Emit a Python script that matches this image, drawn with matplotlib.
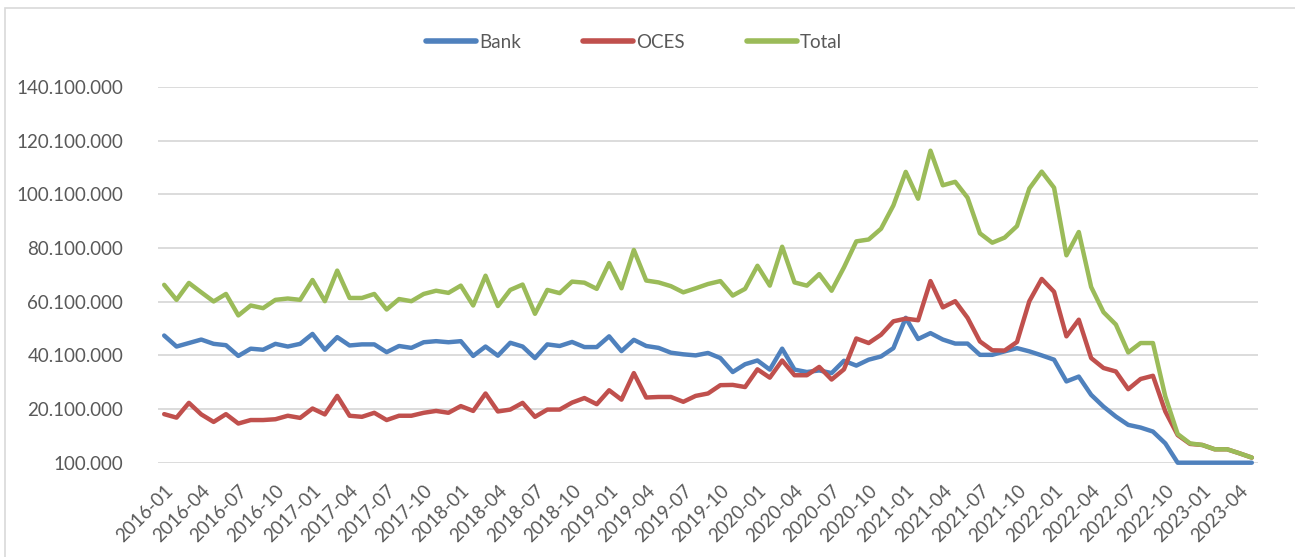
import matplotlib
matplotlib.use("Agg")
import matplotlib.pyplot as plt
from matplotlib.patches import Rectangle
import numpy as np

plt.rcParams['font.family'] = ['Lato', 'DejaVu Sans']

# Months 2016-01 .. 2023-05
years = list(range(2016, 2024))
months = [f"{y}-{m:02d}" for y in years for m in range(1, 13)]
months = months[:89]

bank = [
    47.5, 43.4, 44.7, 46.0, 44.4, 43.9, 39.9, 42.6, 42.2, 44.4,
    43.4, 44.4, 48.1, 42.2, 46.9, 43.8, 44.2, 44.2, 41.3, 43.6,
    42.9, 45.0, 45.4, 45.0, 45.4, 39.9, 43.4, 40.0, 44.8, 43.4,
    39.1, 44.2, 43.6, 45.1, 43.2, 43.2, 47.2, 41.7, 45.9, 43.6,
    42.9, 41.1, 40.5, 40.1, 41.0, 39.1, 33.9, 36.8, 38.2, 34.8,
    42.6, 34.8, 33.9, 34.5, 33.5, 38.1, 36.3, 38.5, 39.7, 42.8,
    54.1, 46.2, 48.4, 46.0, 44.5, 44.5, 40.3, 40.3, 41.6, 42.8,
    41.6, 40.1, 38.5, 30.4, 32.2, 25.4, 21.0, 17.3, 14.2, 13.2,
    11.7, 7.3, 0.1, 0.1, 0.1, 0.1, 0.1, 0.1, 0.1,
]
oces = [
    18.2, 16.9, 22.4, 18.1, 15.3, 18.2, 14.7, 16.0, 16.0, 16.3,
    17.6, 16.8, 20.3, 18.1, 25.0, 17.6, 17.2, 18.7, 16.0, 17.6,
    17.6, 18.7, 19.4, 18.7, 21.2, 19.4, 25.9, 19.2, 19.9, 22.4,
    17.2, 19.9, 19.9, 22.5, 24.2, 21.9, 27.1, 23.6, 33.5, 24.4,
    24.6, 24.6, 22.8, 25.0, 25.9, 29.0, 29.1, 28.3, 34.9, 31.8,
    38.2, 32.7, 32.7, 35.8, 31.1, 34.9, 46.4, 44.7, 47.8, 52.8,
    53.8, 53.2, 67.8, 58.0, 60.3, 54.1, 45.3, 42.0, 41.9, 45.1,
    60.3, 68.6, 63.8, 47.2, 53.4, 39.1, 35.4, 34.1, 27.5, 31.3,
    32.5, 19.2, 10.4, 7.1, 6.7, 5.1, 5.1, 3.6, 2.0,
]
total = [
    66.4, 60.8, 67.1, 63.6, 60.2, 63.0, 55.0, 58.7, 57.7, 60.8,
    61.3, 60.8, 68.2, 60.3, 71.7, 61.5, 61.5, 63.0, 57.2, 61.1,
    60.3, 63.0, 64.2, 63.4, 66.1, 58.7, 69.8, 58.5, 64.5, 66.5,
    55.6, 64.5, 63.3, 67.6, 67.2, 64.9, 74.5, 65.1, 79.4, 68.0,
    67.3, 65.9, 63.6, 65.1, 66.7, 67.8, 62.4, 64.9, 73.5, 66.1,
    80.6, 67.3, 66.1, 70.4, 64.2, 72.9, 82.6, 83.3, 87.3, 96.0,
    108.5, 98.5, 116.4, 103.5, 104.8, 98.9, 85.6, 82.1, 84.0, 88.3,
    102.3, 108.6, 102.6, 77.4, 86.1, 65.6, 56.2, 51.6, 41.2, 44.7,
    44.7, 24.8, 10.8, 7.3, 6.7, 5.1, 5.1, 3.6, 2.0,
]

series_names = ["Bank", "OCES", "Total"]
series_colors = ["#4F81BD", "#C0504D", "#9BBB59"]
y_ticks = [100000 + 20000000 * k for k in range(8)]

W, H = 1295, 557
fig = plt.figure(figsize=(W / 100, H / 100), dpi=100)
ax = fig.add_axes([158 / W, 1 - 462.7 / H, 1100 / W, (462.7 - 87.1) / H])

n = len(months)
x = np.arange(n)
for name, vals, col in zip(series_names, [bank, oces, total], series_colors):
    v = np.array(vals) * 1e6
    v = np.maximum(v, 100000)
    ax.plot(x, v, color=col, lw=3.2, label=name,
            solid_joinstyle='round', solid_capstyle='round', clip_on=False)

ax.set_xlim(-0.5, n - 0.5)
ax.set_ylim(y_ticks[0], y_ticks[-1])
ax.set_yticks(y_ticks)
ax.set_yticklabels([f"{t:,}".replace(",", ".") for t in y_ticks])
ax.yaxis.grid(True, color="#D9D9D9", lw=1.3)
ax.set_axisbelow(True)
for s in ax.spines.values():
    s.set_visible(False)
ax.tick_params(axis='y', length=0, pad=25, labelsize=13.5, labelcolor="#595959")

tick_idx = list(range(0, n, 3))
ax.set_xticks(tick_idx)
ax.set_xticklabels([months[i] for i in tick_idx], rotation=45, ha='right',
                   rotation_mode='anchor')
ax.tick_params(axis='x', length=0, pad=14, labelsize=13.5, labelcolor="#595959")

leg = fig.legend(loc='center', bbox_to_anchor=(634 / W, 1 - 42 / H), ncol=3,
                 frameon=False, fontsize=13.5, handlelength=2.7,
                 handletextpad=0.15, columnspacing=3.3)
for t in leg.get_texts():
    t.set_color("#595959")
for l in leg.get_lines():
    l.set_linewidth(4)

fig.patches.append(Rectangle((5 / W, -0.01), 1.02, 1 - 8 / H + 0.01,
                             transform=fig.transFigure, fill=False,
                             edgecolor="#D9D9D9", lw=1.2))

fig.savefig("out.png", dpi=100)
